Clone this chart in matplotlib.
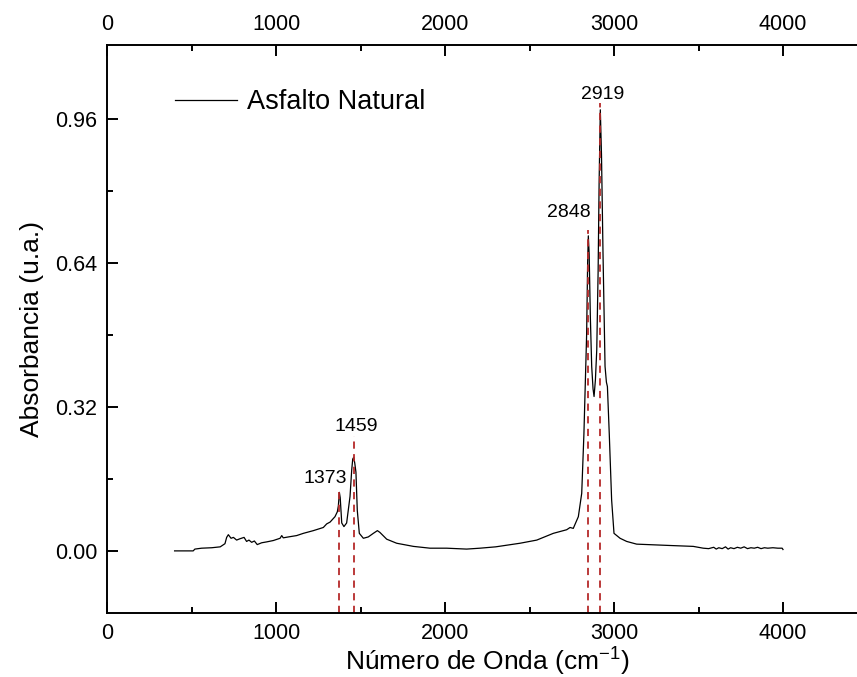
import matplotlib.pyplot as plt
import numpy as np

plt.rcParams['font.family'] = ['Liberation Sans', 'DejaVu Sans']
plt.rcParams['mathtext.fontset'] = 'custom'
plt.rcParams['mathtext.rm'] = 'Liberation Sans'

# === Espectro FTIR ===
wavenumber = [400, 450, 510, 520, 560, 620, 670, 698, 708, 718, 734, 748, 767, 787,
              811, 826, 840, 856, 872, 889, 915, 945, 984, 1024, 1034, 1043, 1073,
              1122, 1162, 1221, 1280, 1300, 1320, 1349, 1363, 1369, 1375, 1380, 1389,
              1402, 1418, 1438, 1448, 1454, 1460, 1466, 1473, 1481, 1493, 1517, 1546,
              1576, 1600, 1615, 1655, 1714, 1813, 1911, 2010, 2128, 2207, 2300, 2444,
              2543, 2641, 2720, 2740, 2759, 2789, 2809, 2822, 2838, 2844, 2848, 2853,
              2860, 2868, 2876, 2882, 2890, 2898, 2906, 2912, 2919, 2926, 2935, 2947,
              2955, 2961, 2972, 2986, 3000, 3036, 3075, 3134, 3331, 3469, 3528, 3560,
              3590, 3605, 3620, 3640, 3660, 3675, 3690, 3710, 3730, 3750, 3770, 3790,
              3810, 3830, 3850, 3870, 3890, 3910, 3940, 3970, 3995, 4000]
absorbance = [0.000, 0.000, 0.000, 0.004, 0.006, 0.007, 0.009, 0.016, 0.030, 0.036,
              0.028, 0.030, 0.024, 0.027, 0.030, 0.021, 0.024, 0.019, 0.022, 0.014,
              0.018, 0.020, 0.023, 0.028, 0.034, 0.029, 0.031, 0.034, 0.039, 0.045,
              0.052, 0.060, 0.064, 0.076, 0.087, 0.100, 0.130, 0.118, 0.062, 0.054,
              0.062, 0.121, 0.180, 0.204, 0.208, 0.195, 0.175, 0.090, 0.039, 0.028,
              0.031, 0.039, 0.045, 0.041, 0.026, 0.017, 0.010, 0.006, 0.006, 0.004,
              0.006, 0.009, 0.017, 0.024, 0.039, 0.047, 0.052, 0.050, 0.076, 0.128,
              0.260, 0.480, 0.640, 0.700, 0.660, 0.520, 0.410, 0.360, 0.343, 0.380,
              0.447, 0.620, 0.820, 0.980, 0.880, 0.660, 0.410, 0.375, 0.365, 0.260,
              0.113, 0.039, 0.028, 0.021, 0.015, 0.012, 0.010, 0.006, 0.005, 0.008,
              0.004, 0.007, 0.005, 0.009, 0.004, 0.007, 0.005, 0.008, 0.006, 0.009,
              0.005, 0.007, 0.006, 0.008, 0.005, 0.007, 0.006, 0.007, 0.006, 0.006,
              0.003]

# === Picos marcados ===
peak_labels = ["1373", "1459", "2848", "2919"]
peak_wn = [1373, 1459, 2848, 2919]
peak_line_top = [0.142, 0.256, 0.713, 0.995]
label_x = [1292, 1473, 2734, 2930]
label_y = [0.160, 0.276, 0.752, 1.013]

fig = plt.figure(figsize=(8.57, 6.77), dpi=100)
# l'axe depasse a droite de l'image (recadrage de l'original)
ax = fig.add_axes([107 / 857, 64 / 677, 760.5 / 857, 568 / 677])

ax.plot(wavenumber, absorbance, color="black", linewidth=0.9, label="Asfalto Natural")

ymin, ymax = -0.138, 1.124
for wn, top in zip(peak_wn, peak_line_top):
    ax.vlines(wn, ymin, top, colors="#b52a2a", linestyles=(0, (4, 3)), linewidth=1.3)
for txt, x, y in zip(peak_labels, label_x, label_y):
    ax.text(x, y, txt, fontsize=14, ha="center", va="center")

ax.set_xlim(0, 4500)
ax.set_ylim(ymin, ymax)
ax.set_xticks([0, 1000, 2000, 3000, 4000])
ax.set_xticks(np.arange(500, 4500, 1000), minor=True)
ax.set_yticks([0.0, 0.32, 0.64, 0.96])
ax.set_yticks([0.16, 0.48, 0.80], minor=True)
ax.yaxis.set_major_formatter(plt.FormatStrFormatter("%.2f"))

ax.tick_params(which="both", direction="in", top=True, right=True, labeltop=True,
               width=1.4, labelsize=15.5, pad=7)
ax.tick_params(which="major", length=8)
ax.tick_params(which="minor", length=4)
for s in ax.spines.values():
    s.set_linewidth(1.4)

ax.set_xlabel("Número de Onda (cm$^{\\mathrm{-1}}$)", fontsize=19, labelpad=0)
ax.set_ylabel("Absorbancia (u.a.)", fontsize=19, labelpad=8)

ax.legend(loc="center left", bbox_to_anchor=(175 / 857, 1 - 102 / 677),
          bbox_transform=fig.transFigure, frameon=False, fontsize=19.5,
          borderpad=0, borderaxespad=0, handlelength=2.3, handletextpad=0.35)

plt.savefig("out.png", dpi=100)
